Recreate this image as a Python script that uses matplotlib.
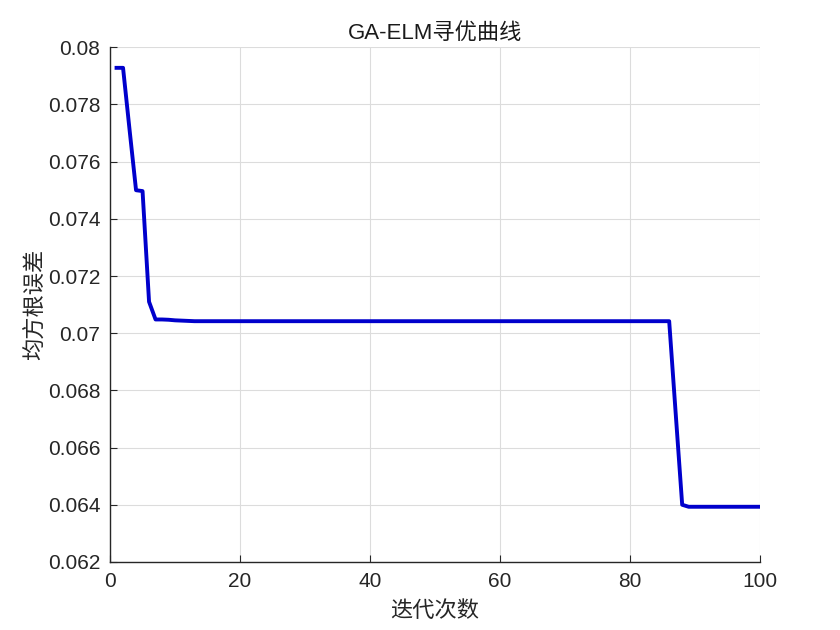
import numpy as np
import matplotlib
matplotlib.use("Agg")
import matplotlib.pyplot as plt

plt.rcParams['font.family'] = ['Liberation Sans', 'Noto Sans CJK SC', 'DejaVu Sans']

# best RMSE per generation
iters = np.arange(1, 101)
rmse_head = [0.07928, 0.07928, 0.07712, 0.07500, 0.07497, 0.07110, 0.07048,
             0.07048, 0.07047, 0.07045, 0.07044, 0.07043]
rmse_mid = [0.07042] * (86 - 12)          # generations 13..86
rmse_tail = [0.06720, 0.06400] + [0.06393] * 12  # generations 87..100
rmse = np.array(rmse_head + rmse_mid + rmse_tail)

title = "GA-ELM寻优曲线"
xlabel = "迭代次数"
ylabel = "均方根误差"

fig = plt.figure(figsize=(8.4, 6.3), dpi=100)
ax = fig.add_axes([0.131, 0.108, 0.774, 0.817])

ax.plot(iters, rmse, color=(0, 0, 0.8), lw=2.8)

ax.set_xlim(0, 100)
ax.set_ylim(0.062, 0.08)
ax.set_xticks(np.arange(0, 101, 20))
ax.set_yticks(np.arange(0.062, 0.0801, 0.002))
ax.set_yticklabels([f"{v:g}" for v in np.round(np.arange(0.062, 0.0801, 0.002), 3)])

ax.grid(True, color='#dcdcdc', lw=0.8)
ax.set_axisbelow(True)
for side in ['top', 'right']:
    ax.spines[side].set_visible(False)
for side in ['left', 'bottom']:
    ax.spines[side].set_color('#262626')
    ax.spines[side].set_linewidth(1.0)
ax.tick_params(direction='in', length=5, width=0.8, colors='#262626',
               labelsize=15, pad=7)

ax.set_title(title, fontsize=16, color='#1a1a1a', pad=6)
ax.set_xlabel(xlabel, fontsize=16, color='#262626', labelpad=6,
              family=['Noto Sans CJK SC'])
ax.set_ylabel(ylabel, fontsize=16, color='#262626', labelpad=1,
              family=['Noto Sans CJK SC'])

fig.savefig('out.png', dpi=100)
